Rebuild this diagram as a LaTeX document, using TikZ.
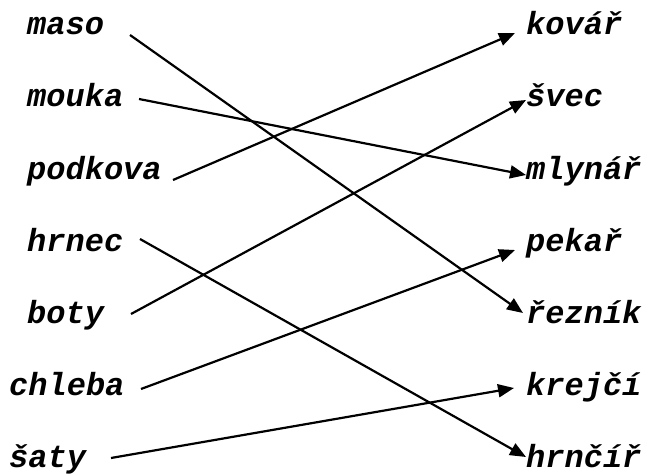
\documentclass[tikz,border=0pt]{standalone}
\usepackage{fontspec}
\newfontfamily\cour{Liberation Mono}
\usetikzlibrary{arrows.meta}
\begin{document}
\begin{tikzpicture}[x=1pt,y=-1pt,
  lbl/.style={anchor=base west,inner sep=0pt,font=\cour\bfseries\itshape\fontsize{32}{38}\selectfont},
  conn/.style={line width=2.2pt,-{Triangle[length=16pt,width=13pt]}}]
\useasboundingbox (0,0) rectangle (648,476);
% left labels
\node[lbl] (maso) at (27,35) {maso};
\node[lbl] (mouka) at (27,107) {mouka};
\node[lbl] (podkova) at (27,179) {podkova};
\node[lbl] (hrnec) at (27,251) {hrnec};
\node[lbl] (boty) at (27,323) {boty};
\node[lbl] (chleba) at (9,395) {chleba};
\node[lbl] (saty) at (9,467) {šaty};
% right labels
\node[lbl] (kovar) at (526,35) {kovář};
\node[lbl] (svec) at (526,107) {švec};
\node[lbl] (mlynar) at (526,179) {mlynář};
\node[lbl] (pekar) at (526,251) {pekař};
\node[lbl] (reznik) at (526,323) {řezník};
\node[lbl] (krejci) at (526,395) {krejčí};
\node[lbl] (hrncir) at (526,467) {hrnčíř};
% connector ends
\coordinate (masoO) at (130,35);
\coordinate (moukaO) at (139,99);
\coordinate (podkovaO) at (173,180);
\coordinate (hrnecO) at (140,239);
\coordinate (botyO) at (131,314);
\coordinate (chlebaO) at (141,389);
\coordinate (satyO) at (111,458);
\coordinate (kovarI) at (515,33);
\coordinate (svecI) at (526,100);
\coordinate (mlynarI) at (526,175);
\coordinate (pekarI) at (515,250);
\coordinate (reznikI) at (523,313);
\coordinate (krejciI) at (514,388);
\coordinate (hrncirI) at (526,457);
% connectors
\draw[conn] (masoO) -- (reznikI);
\draw[conn] (moukaO) -- (mlynarI);
\draw[conn] (podkovaO) -- (kovarI);
\draw[conn] (hrnecO) -- (hrncirI);
\draw[conn] (botyO) -- (svecI);
\draw[conn] (chlebaO) -- (pekarI);
\draw[conn] (satyO) -- (krejciI);
\end{tikzpicture}
\end{document}
